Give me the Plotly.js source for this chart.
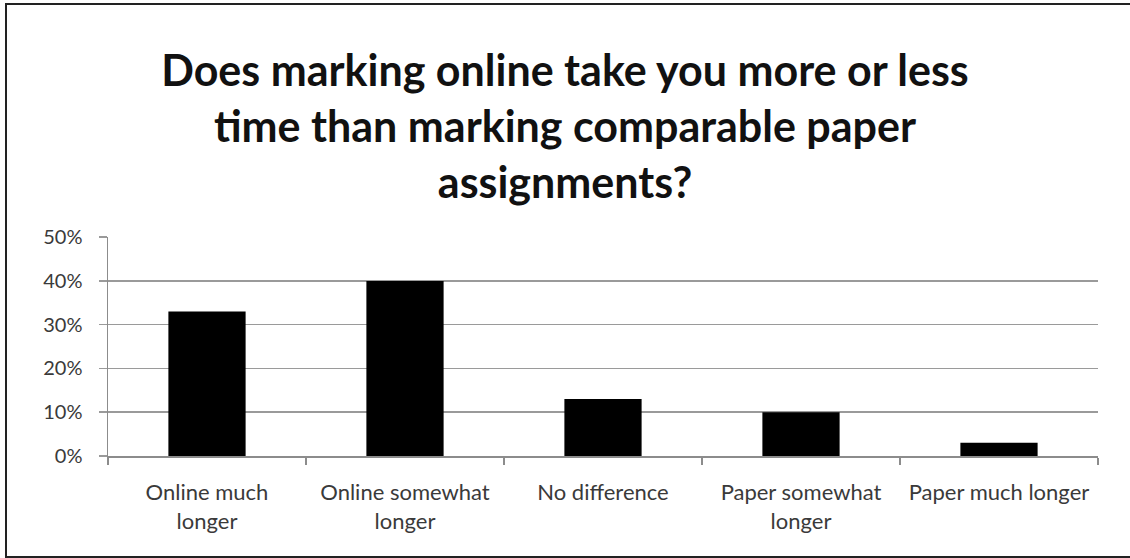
<!DOCTYPE html>
<html>
<head>
<meta charset="utf-8">
<script src="https://cdn.plot.ly/plotly-3.0.1.min.js"></script>
<style>html,body{margin:0;padding:0;background:#fff;}#chart{width:1130px;height:558px;}</style>
</head>
<body>
<div id="chart"></div>
<script>
const categories = ["Online much<br>longer", "Online somewhat<br>longer", "No difference", "Paper somewhat<br>longer", "Paper much longer"];
const values = [0.33, 0.40, 0.13, 0.10, 0.03];
const yTickValues = [0, 0.1, 0.2, 0.3, 0.4, 0.5];
const yTickLabels = ["0%", "10%", "20%", "30%", "40%", "50%"];
const titleText = "Does marking online take you more or less<br>time than marking comparable paper<br>assignments?";

const W = 1130, H = 558;
const m = {l: 108, r: 32, t: 237, b: 102};
const pw = W - m.l - m.r, ph = H - m.t - m.b;
const px = v => (v - m.l) / pw;
const py = v => (H - m.b - v) / ph;

Plotly.newPlot('chart', [{
  type: 'bar',
  x: categories,
  y: values,
  marker: {color: '#000000', line: {width: 0}},
  width: 0.39,
  hoverinfo: 'skip'
}], {
  width: W, height: H,
  margin: m,
  paper_bgcolor: '#ffffff',
  plot_bgcolor: '#ffffff',
  showlegend: false,
  title: {
    text: titleText,
    font: {family: 'Lato, "Open Sans", sans-serif', size: 43, color: '#111111', weight: 'bold'},
    x: 0.5, xanchor: 'center',
    y: 1 - 86 / H, yanchor: 'middle'
  },
  xaxis: {
    type: 'category',
    showgrid: false,
    showline: true, linecolor: '#8c8c8c', linewidth: 1.5,
    ticks: 'outside', tickson: 'boundaries', ticklen: 7, tickcolor: '#8c8c8c', tickwidth: 1.5,
    tickangle: 0,
    tickfont: {family: 'Lato, "Open Sans", sans-serif', size: 22, color: '#3a3a3a'},
    ticklabelstandoff: 16,
    fixedrange: true
  },
  yaxis: {
    range: [0, 0.5005],
    tickvals: yTickValues,
    ticktext: yTickLabels,
    showgrid: true, gridcolor: '#9a9a9a', gridwidth: 1.5,
    zeroline: false,
    showline: true, linecolor: '#8c8c8c', linewidth: 1.5,
    ticks: 'outside', ticklen: 8, tickcolor: '#9a9a9a', tickwidth: 1.5,
    tickfont: {family: 'Lato, "Open Sans", sans-serif', size: 20, color: '#3a3a3a'},
    ticklabelstandoff: 12,
    fixedrange: true
  },
  shapes: [{
    type: 'rect', xref: 'paper', yref: 'paper',
    x0: px(6), x1: px(1140), y0: py(557), y1: py(4),
    line: {color: '#222222', width: 2}, fillcolor: 'rgba(0,0,0,0)', layer: 'above'
  }]
}, {staticPlot: true});
</script>
</body>
</html>
